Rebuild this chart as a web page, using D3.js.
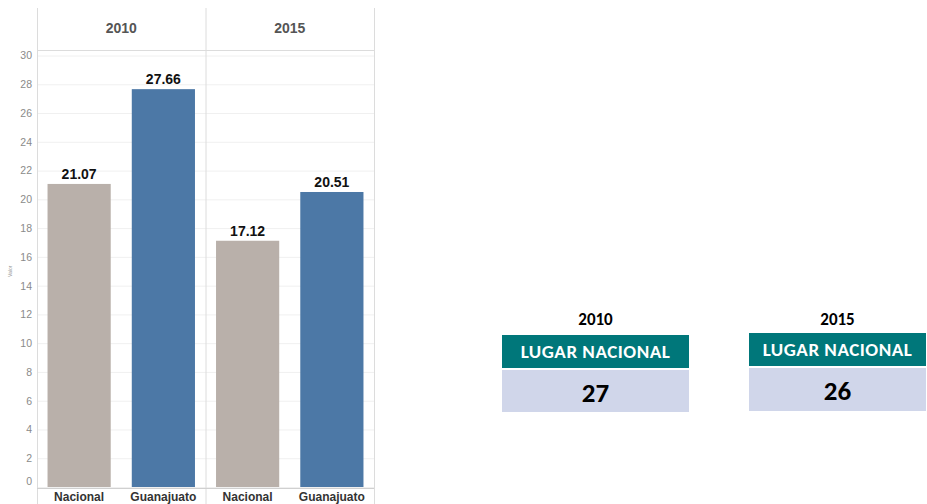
<!DOCTYPE html>
<html><head><meta charset="utf-8">
<script src="https://cdn.jsdelivr.net/npm/d3@7"></script>
<style>body{margin:0;background:#fff}svg{display:block}</style>
</head><body>
<script>
const years = ["2010", "2015"];
const categories = ["Nacional", "Guanajuato"];
const values2010 = [21.07, 27.66];
const values2015 = [17.12, 20.51];
const yTicks = [0, 2, 4, 6, 8, 10, 12, 14, 16, 18, 20, 22, 24, 26, 28, 30];
const rankLabel = "LUGAR NACIONAL";
const ranks = [27, 26];
const yTitle = "Valor";

(function () {
const W = 927, H = 504;
const svg = d3.select("body").append("svg").attr("width", W).attr("height", H);
const colors = d3.scaleOrdinal().domain(categories).range(["#b9b0aa", "#4c78a6"]);

const pLeft = 37, pRight = 374, pTop = 8, headerBottom = 50;
const y = d3.scaleLinear().domain([0, 30]).range([487, 55.5]);
const panels = d3.scaleBand().domain(years).range([pLeft, pRight]);
const seriesByYear = {"2010": values2010, "2015": values2015};

// gridlines
svg.append("g").selectAll("line").data(yTicks).join("line")
  .attr("x1", pLeft).attr("x2", pRight)
  .attr("y1", d => y(d) + 0.5).attr("y2", d => y(d) + 0.5)
  .attr("stroke", "#f0f0f0").attr("stroke-width", 1);

// header line
svg.append("line").attr("x1", pLeft).attr("x2", pRight).attr("y1", headerBottom + 0.5).attr("y2", headerBottom + 0.5)
  .attr("stroke", "#dcdcdc");
// vertical panel borders
const borders = [pLeft, panels("2015"), pRight];
svg.append("g").selectAll("line").data(borders).join("line")
  .attr("x1", d => d + 0.5).attr("x2", d => d + 0.5).attr("y1", pTop).attr("y2", H)
  .attr("stroke", "#dcdcdc");
// bottom axis line
svg.append("line").attr("x1", pLeft).attr("x2", pRight).attr("y1", 488.5).attr("y2", 488.5).attr("stroke", "#d0d0d0");

// y axis
const yAxis = d3.axisLeft(y).tickValues(yTicks).tickSize(0).tickPadding(5);
const ga = svg.append("g").attr("transform", `translate(${pLeft},0)`).call(yAxis);
ga.select(".domain").remove();
ga.selectAll("text").attr("fill", "#8a8a8a").style("font-family", "Arial, 'Liberation Sans', sans-serif").style("font-size", "10.5px");
ga.selectAll(".tick").filter(d => d === 0).select("text").attr("dy", "-0.25em");

svg.append("text").attr("transform", `translate(12,${y(15)}) rotate(-90)`)
  .attr("text-anchor", "middle").attr("fill", "#999").style("font-family", "Arial, sans-serif").style("font-size", "5px").text(yTitle);

// panels
years.forEach(yr => {
  const x0 = panels(yr);
  const x = d3.scaleBand().domain(categories).range([x0, x0 + panels.bandwidth()]).paddingInner(0.25).paddingOuter(0.125);
  const g = svg.append("g");
  g.append("text").attr("x", x0 + panels.bandwidth() / 2).attr("y", 33).attr("text-anchor", "middle")
    .attr("fill", "#555").style("font-family", "Arial, 'Liberation Sans', sans-serif").style("font-weight", "bold").style("font-size", "14px").text(yr);
  const data = categories.map((c, i) => ({c, v: seriesByYear[yr][i]}));
  g.selectAll("rect").data(data).join("rect")
    .attr("x", d => x(d.c)).attr("width", x.bandwidth())
    .attr("y", d => y(d.v)).attr("height", d => y(0) - y(d.v))
    .attr("fill", d => colors(d.c));
  g.selectAll("text.val").data(data).join("text").attr("class", "val")
    .attr("x", d => x(d.c) + x.bandwidth() / 2).attr("y", d => y(d.v) - 5).attr("text-anchor", "middle")
    .attr("fill", "#111").style("font-family", "Arial, 'Liberation Sans', sans-serif").style("font-weight", "bold").style("font-size", "14px")
    .text(d => d.v.toFixed(2));
  g.selectAll("text.cat").data(categories).join("text").attr("class", "cat")
    .attr("x", d => x(d) + x.bandwidth() / 2).attr("y", 501).attr("text-anchor", "middle")
    .attr("fill", "#333").style("font-family", "Arial, 'Liberation Sans', sans-serif").style("font-weight", "bold").style("font-size", "12px")
    .text(d => d);
});

// rank boxes
const boxes = [{x: 502, w: 187, yT: 335, yL: 370, yB: 412}, {x: 749, w: 177, yT: 333, yL: 368, yB: 411}];
const font = "Calibri, Carlito, Lato, 'Open Sans', sans-serif";
years.forEach((yr, i) => {
  const b = boxes[i];
  const g = svg.append("g");
  g.append("text").attr("x", b.x + b.w / 2).attr("y", 325).attr("text-anchor", "middle")
    .attr("fill", "#000").style("font-family", font).style("font-weight", "bold").style("font-size", "17px").text(yr);
  g.append("rect").attr("x", b.x).attr("y", b.yT).attr("width", b.w).attr("height", b.yL - b.yT - 2).attr("fill", "#00777a");
  g.append("text").attr("x", b.x + b.w / 2).attr("y", b.yT + 23).attr("text-anchor", "middle")
    .attr("fill", "#fff").style("font-family", font).style("font-weight", "600").style("font-size", "19px")
    .style("letter-spacing", "0.5px").text(rankLabel);
  g.append("rect").attr("x", b.x).attr("y", b.yL).attr("width", b.w).attr("height", b.yB - b.yL).attr("fill", "#d0d6ea");
  g.append("text").attr("x", b.x + b.w / 2).attr("y", b.yL + 32).attr("text-anchor", "middle")
    .attr("fill", "#000").style("font-family", font).style("font-weight", "bold").style("font-size", "27px").text(ranks[i]);
});
})();
</script>
</body></html>
